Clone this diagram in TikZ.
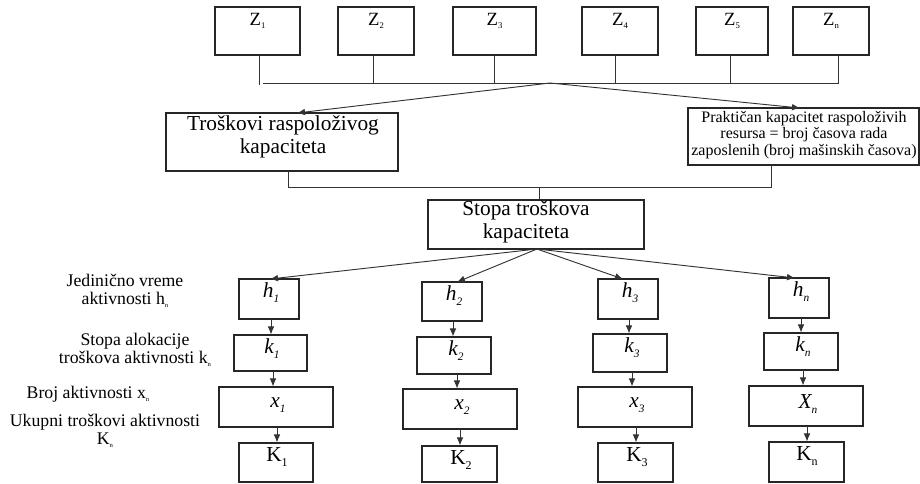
\documentclass[tikz,border=0pt]{standalone}
\usepackage{fontspec}
\setmainfont{Liberation Serif}
\usetikzlibrary{arrows.meta,calc}
\newcommand{\mkbox}[5]{\node[boxst, minimum width={(#4-#2)*0.75pt}, minimum height={(#5-#3)*0.75pt}] (#1) at ({(#2+#4)/2},{(#3+#5)/2}) {};}
\newcommand{\tinysub}[1]{\raisebox{-0.35ex}{\fontsize{5}{5}\selectfont #1}}
\newcommand{\zsub}[1]{\raisebox{-0.3ex}{\fontsize{6.5}{6.5}\selectfont #1}}
\newcommand{\vsub}[1]{\raisebox{-0.5ex}{\fontsize{8.5}{8.5}\selectfont\itshape #1}}
\newcommand{\Ksub}[1]{\raisebox{-0.45ex}{\fontsize{9}{9}\selectfont #1}}
\begin{document}
\begin{tikzpicture}[x=0.75pt,y=-0.75pt,
 boxst/.style={draw=black!85, line width=0.8pt, rectangle, inner sep=0pt},
 conn/.style={draw=black!80, line width=0.7pt},
 arr/.style={conn, -{Latex[length=6pt,width=5pt]}},
 txt/.style={inner sep=0pt, align=center},
 ztxt/.style={txt, font=\fontsize{14}{15}\selectfont},
 btxt/.style={txt, font=\fontsize{16}{17}\selectfont},
 ptxt/.style={txt, font=\fontsize{12}{12.5}\selectfont},
 vtxt/.style={txt, font=\fontsize{16}{17}\selectfont\itshape},
 Ktxt/.style={txt, font=\fontsize{16}{17}\selectfont},
 lbl/.style={txt, font=\fontsize{13.3}{13.8}\selectfont},
]
\useasboundingbox (0,0) rectangle (920,483);
% top row
\mkbox{z1}{215}{7}{300}{55}
\mkbox{z2}{338}{7}{414}{55}
\mkbox{z3}{453}{7}{536}{55}
\mkbox{z4}{582}{7}{658}{55}
\mkbox{z5}{696}{7}{768}{55}
\mkbox{zn}{793}{7}{869}{55}
\node[ztxt] (z1t) at (257.5,21) {Z\zsub{1}};
\node[ztxt] (z2t) at (376,21) {Z\zsub{2}};
\node[ztxt] (z3t) at (494.5,21) {Z\zsub{3}};
\node[ztxt] (z4t) at (620,21) {Z\zsub{4}};
\node[ztxt] (z5t) at (732,21) {Z\zsub{5}};
\node[ztxt] (znt) at (831,21) {Z\zsub{n}};
\coordinate (busl) at (263,83);
\coordinate (busm) at (550,83);
\coordinate (d1) at (259,55);
\coordinate (d2) at (373,55);
\coordinate (d3) at (494,55);
\coordinate (d4) at (615,55);
\coordinate (d5) at (730,55);
\coordinate (dn) at (838,55);
\draw[conn] (d1) -- ++(0,30);
\draw[conn] (d2) -- (d2 |- busl);
\draw[conn] (d3) -- (d3 |- busl);
\draw[conn] (d4) -- (d4 |- busl);
\draw[conn] (d5) -- (d5 |- busl);
\draw[conn] (dn) |- (busl);
% second level
\mkbox{tr}{166}{113}{398}{171}
\mkbox{pr}{688}{108}{919}{165}
\node[btxt] (trt) at (283,137) {Troškovi raspoloživog\\kapaciteta};
\node[ptxt] (prt) at (804,135) {Praktičan kapacitet raspoloživih\\resursa = broj časova rada\\zaposlenih (broj mašinskih časova)};
\coordinate (trin) at (297,113);
\coordinate (prin) at (800,108);
\draw[arr] (busm) -- (trin);
\draw[arr] (busm) -- (prin);
\coordinate (trout) at (288,171);
\coordinate (prout) at (771,165);
\coordinate (jm) at (539,187);
\draw[conn] (trout) -- (trout |- jm) -- (prout |- jm) -- (prout);
\mkbox{st}{428}{200}{644}{249}
\node[btxt] (stt) at (526,222) {Stopa troškova\\kapaciteta};
\draw[conn] (jm) -- (jm |- st.north);
% h row
\mkbox{h1}{239}{279}{299}{319}
\mkbox{h2}{422}{282}{482}{321}
\mkbox{h3}{598}{279}{658}{319}
\mkbox{hn}{769}{278}{829}{318}
\node[vtxt] (h1t) at (271,293) {h\vsub{1}};
\node[vtxt] (h2t) at (454,296) {h\vsub{2}};
\node[vtxt] (h3t) at (630,293) {h\vsub{3}};
\node[vtxt] (hnt) at (801,292) {h\vsub{n}};
\coordinate (sb) at (537,249);
\draw[arr] (sb) -- (270,279);
\draw[arr] (sb) -- (457,282);
\draw[arr] (sb) -- (623,279);
\draw[arr] (sb) -- (795,278);
% k row
\mkbox{k1}{234}{335}{307}{371}
\mkbox{k2}{417}{337}{491}{374}
\mkbox{k3}{593}{334}{667}{372}
\mkbox{kn}{764}{333}{838}{370}
\node[vtxt] (k1t) at (272,349) {k\vsub{1}};
\node[vtxt] (k2t) at (456,351) {k\vsub{2}};
\node[vtxt] (k3t) at (632,348) {k\vsub{3}};
\node[vtxt] (knt) at (803,347) {k\vsub{n}};
\coordinate (a1) at (271,319);
\coordinate (a2) at (453,321);
\coordinate (a3) at (629,319);
\coordinate (a4) at (801,318);
\draw[arr] (a1) -- (a1 |- k1.north);
\draw[arr] (a2) -- (a2 |- k2.north);
\draw[arr] (a3) -- (a3 |- k3.north);
\draw[arr] (a4) -- (a4 |- kn.north);
% x row
\mkbox{x1}{219}{387}{333}{427}
\mkbox{x2}{403}{389}{517}{429}
\mkbox{x3}{578}{387}{692}{427}
\mkbox{xn}{749}{386}{863}{426}
\node[vtxt] (x1t) at (278,405) {x\vsub{1}};
\node[vtxt] (x2t) at (462,407) {x\vsub{2}};
\node[vtxt] (x3t) at (637,405) {x\vsub{3}};
\node[vtxt] (xnt) at (808,404) {X\vsub{n}};
\coordinate (b1) at (273,371);
\coordinate (b2) at (457,374);
\coordinate (b3) at (632,372);
\coordinate (b4) at (803,370);
\draw[arr] (b1) -- (b1 |- x1.north);
\draw[arr] (b2) -- (b2 |- x2.north);
\draw[arr] (b3) -- (b3 |- x3.north);
\draw[arr] (b4) -- (b4 |- xn.north);
% K row
\mkbox{K1}{239}{443}{313}{482}
\mkbox{K2}{422}{446}{497}{482}
\mkbox{K3}{598}{443}{673}{482}
\mkbox{Kn}{769}{442}{844}{482}
\node[Ktxt] (K1t) at (277,457) {K\Ksub{1}};
\node[Ktxt] (K2t) at (461,460) {K\Ksub{2}};
\node[Ktxt] (K3t) at (637,457) {K\Ksub{3}};
\node[Ktxt] (Knt) at (807,456) {K\Ksub{n}};
\coordinate (c1) at (277,427);
\coordinate (c2) at (460,429);
\coordinate (c3) at (636,427);
\coordinate (c4) at (807,426);
\draw[arr] (c1) -- (c1 |- K1.north);
\draw[arr] (c2) -- (c2 |- K2.north);
\draw[arr] (c3) -- (c3 |- K3.north);
\draw[arr] (c4) -- (c4 |- Kn.north);
% left labels
\node[lbl] (jl) at (125,291) {Jedinično vreme\\aktivnosti h\tinysub{n}};
\node[lbl] (sl) at (135,350) {Stopa alokacije\\troškova aktivnosti k\tinysub{n}};
\node[lbl] (bl) at (88,394) {Broj aktivnosti x\tinysub{n}};
\node[lbl] (ul) at (105,431) {Ukupni troškovi aktivnosti\\K\tinysub{n}};
\end{tikzpicture}
\end{document}
